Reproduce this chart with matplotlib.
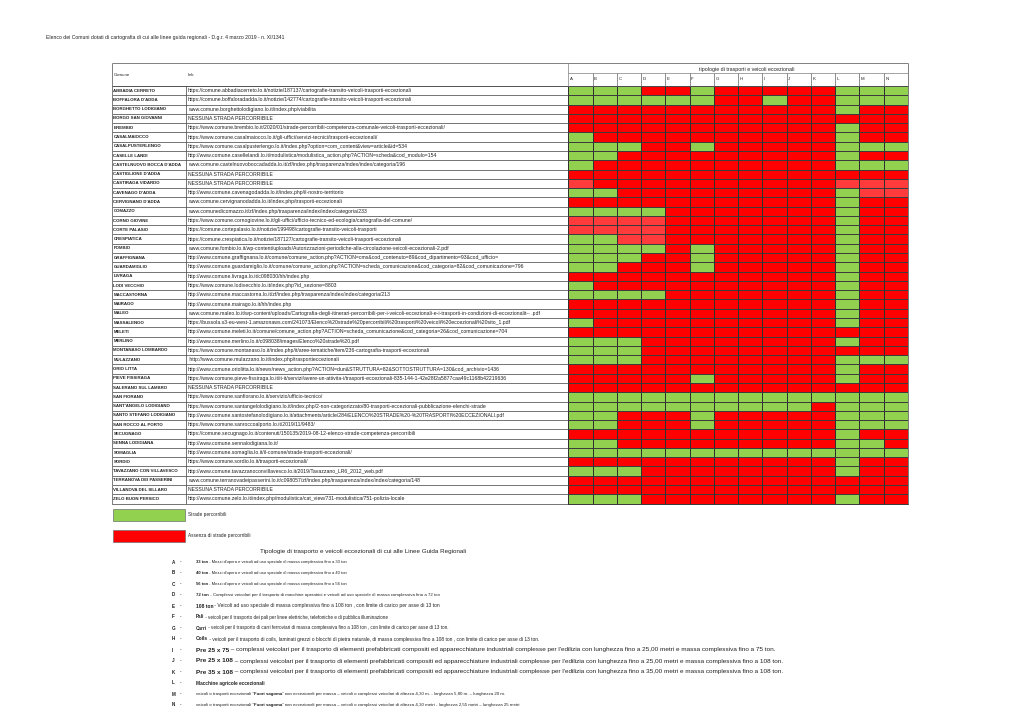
import numpy as np
import matplotlib
matplotlib.use("Agg")
import matplotlib.pyplot as plt
from matplotlib.colors import ListedColormap
from matplotlib.patches import Rectangle

plt.rcParams['font.family'] = ['Liberation Sans', 'DejaVu Sans']

# ---------------- data ----------------
title = ("Elenco dei Comuni dotati di cartografia di cui alle linee guida regionali"
         " - D.g.r. 4 marzo 2019 - n. XI/1341")
group_title = "tipologie di trasporti e veicoli eccezionali"
col_header = ["Comune", "link"]
categories = list("ABCDEFGHIJKLMN")

comuni = [
    "ABBADIA CERRETO", "BOFFALORA D'ADDA", "BORGHETTO LODIGIANO", "BORGO SAN GIOVANNI",
    "BREMBIO", "CASALMAIOCCO", "CASALPUSTERLENGO", "CASELLE LANDI",
    "CASTELNUOVO BOCCA D'ADDA", "CASTIGLIONE D'ADDA", "CASTIRAGA VIDARDO",
    "CAVENAGO D'ADDA", "CERVIGNANO D'ADDA", "COMAZZO", "CORNO GIOVINE", "CORTE PALASIO",
    "CRESPIATICA", "FOMBIO", "GRAFFIGNANA", "GUARDAMIGLIO", "LIVRAGA", "LODI VECCHIO",
    "MACCASTORNA", "MAIRAGO", "MALEO", "MASSALENGO", "MELETI", "MERLINO",
    "MONTANASO LOMBARDO", "MULAZZANO", "ORIO LITTA", "PIEVE FISSIRAGA",
    "SALERANO SUL LAMBRO", "SAN FIORANO", "SANT'ANGELO LODIGIANO",
    "SANTO STEFANO LODIGIANO", "SAN ROCCO AL PORTO", "SECUGNAGO", "SENNA LODIGIANA",
    "SOMAGLIA", "SORDIO", "TAVAZZANO CON VILLAVESCO", "TERRANOVA DEI PASSERINI",
    "VILLANOVA DEL SILLARO", "ZELO BUON PERSICO",
]

links = [
    "https://comune.abbadiacerreto.lo.it/notizie/187137/cartografie-transito-veicoli-trasporti-eccezionali",
    "https://comune.boffaloradadda.lo.it/notizie/142774/cartografie-transito-veicoli-trasporti-eccezionali",
    "www.comune.borghettolodigiano.lo.it/index.php/viabilita",
    "NESSUNA STRADA PERCORRIBILE",
    "https://www.comune.brembio.lo.it/2020/01/strade-percorribili-competenza-comunale-veicoli-trasporti-eccezionali/",
    "https://www.comune.casalmaiocco.lo.it/gli-uffici/servizi-tecnici/trasporti-eccezionali/",
    "https://www.comune.casalpusterlengo.lo.it/index.php?option=com_content&view=article&id=534",
    "http://www.comune.casellelandi.lo.it/modulistica/modulistica_action.php?ACTION=scheda&cod_modulo=154",
    "www.comune.castelnuovoboccadadda.lo.it/zf/index.php/trasparenza/index/index/categoria/196",
    "NESSUNA STRADA PERCORRIBILE",
    "NESSUNA STRADA PERCORRIBILE",
    "http://www.comune.cavenagodadda.lo.it/index.php/il-nostro-territorio",
    "www.comune.cervignanodadda.lo.it/index.php/trasporti-eccezionali",
    "www.comunedicomazzo.it/zf/index.php/trasparenza/index/index/categoria/233",
    "https://www.comune.cornogiovine.lo.it/gli-uffici/ufficio-tecnico-ed-ecologia/cartografia-del-comune/",
    "https://comune.cortepalasio.lo.it/notizie/199498/cartografie-transito-veicoli-trasporti",
    "https://comune.crespiatica.lo.it/notizie/187127/cartografie-transito-veicoli-trasporti-eccezionali",
    "www.comune.fombio.lo.it/wp-content/uploads/Autorizzazioni-periodiche-alla-circolazione-veicoli-eccezionali-2.pdf",
    "http://www.comune.graffignana.lo.it/comune/comune_action.php?ACTION=cms&cod_contenuto=89&cod_dipartimento=93&cod_ufficio=",
    "http://www.comune.guardamiglio.lo.it/comune/comune_action.php?ACTION=scheda_comunicazione&cod_categoria=82&cod_comunicazione=796",
    "http://www.comune.livraga.lo.it/c098030/hh/index.php",
    "https://www.comune.lodivecchio.lo.it/index.php?id_sezione=8803",
    "http://www.comune.maccastorna.lo.it/zf/index.php/trasparenza/index/index/categoria/213",
    "http://www.comune.mairago.lo.it/hh/index.php",
    "www.comune.maleo.lo.it/wp-content/uploads/Cartografia-degli-itinerari-percorribili-per-i-veicoli-eccezionali-e-i-trasporti-in-condizioni-di-eccezionalit-- .pdf",
    "https://bussola.s3-eu-west-1.amazonaws.com/241073/Elenco%20strade%20percorribili%20trasporti%20veicoli%20eccezionali%20sito_1.pdf",
    "http://www.comune.meleti.lo.it/comune/comune_action.php?ACTION=scheda_comunicazione&cod_categoria=26&cod_comunicazione=704",
    "http://www.comune.merlino.lo.it/c098038/images/Elenco%20strade%20.pdf",
    "https://www.comune.montanaso.lo.it/index.php/it/aree-tematiche/item/236-cartografia-trasporti-eccezionali",
    " http://www.comune.mulazzano.lo.it/index.php/trasportieccezionali",
    "http://www.comune.oriolitta.lo.it/news/news_action.php?ACTION=dun&STRUTTURA=82&SOTTOSTRUTTURA=130&cod_archivio=1436",
    "https://www.comune.pieve-fissiraga.lo.it/it-it/servizi/avere-un-attivita-i/trasporti-eccezionali-835-144-1-42e28f2a5877caa49c1168b42219636",
    "NESSUNA STRADA PERCORRIBILE",
    "https://www.comune.sanfiorano.lo.it/servizio/ufficio-tecnico/",
    "https://www.comune.santangelolodigiano.lo.it/index.php/2-non-categorizzato/80-trasporti-eccezionali-pubblicazione-elenchi-strade",
    "http://www.comune.santostefanolodigiano.lo.it/attachments/article/284/ELENCO%20STRADE%20-%20TRASPORTI%20ECCEZIONALI.pdf",
    "https://www.comune.sanroccoalporto.lo.it/2019/11/9483/",
    "https://comune.secugnago.lo.it/contenuti/150135/2019-08-12-elenco-strade-competenza-percorribili",
    "http://www.comune.sennalodigiana.lo.it/",
    "http://www.comune.somaglia.lo.it/il-comune/strade-trasporti-eccezionali/",
    "https://www.comune.sordio.lo.it/trasporti-eccezionali/",
    "http://www.comune.tavazzanoconvillavesco.lo.it/2019/Tavazzano_LR6_2012_web.pdf",
    "www.comune.terranovadeipasserini.lo.it/c098057/zf/index.php/trasparenza/index/index/categoria/148",
    "NESSUNA STRADA PERCORRIBILE",
    "http://www.comune.zelo.lo.it/index.php/modulistica/cat_view/731-modulistica/751-polizia-locale",
]

# G = strade percorribili, R = assenza, P = assenza (tono chiaro) ; columns A..N
status = [
    "GGGRRGRRRRRGGG", "GGGGGGRRGRRGGG", "RRRRRRRRRRRGRR", "RRRRRRRRRRRRRR",
    "RRRRRRRRRRRGRR", "GRRRRRRRRRRGRR", "GGGRRGRRRRRGGG", "GGRRRRRRRRRGRR",
    "GRRRRRRRRRRGGG", "RRRRRRRRRRRRRR", "PRRRRRRRRRRPPP", "GGRRRRRRRRRGPP",
    "RRRRRRRRRRRGRR", "GGGGRRRRRRRGRR", "PPPPRRRRRRRGRR", "PPPPRRRRRRRGRR",
    "GGPPRRRRRRRGRR", "GGGGRGRRRRRGRR", "GGGRRGRRRRRGRR", "GGRRRGRRRRRGRR",
    "RRRRRRRRRRRGRR", "GRRRRRRRRRRGRR", "GGGGRRRRRRRGRR", "RRRRRRRRRRRGRR",
    "RRRRRRRRRRRGRR", "GRRRRRRRRRRGRR", "RRRRRRRRRRRRRR", "GGGRRRRRRRRGRR",
    "GGGRRRRRRRRRRR", "GGGRRRRRRRRGGG", "RRRRRRRRRRRGRR", "RRRRRGRRRRRGRR",
    "RRRRRRRRRRRRRR", "GGGGGGGGGGGGGG", "GGGGGGGGGGRGGG", "GGRRRGRRRRRGGG",
    "GGRRRGRRRRRGGG", "RRRRRRRRRRRGRR", "GGRRRRRRRRRGGR", "GGGGGGGGGGGGGG",
    "RRRRRRRRRRRGRR", "GGGRRRRRRRRGRR", "RRRRRRRRRRRRRR", "RRRRRRRRRRRRRR",
    "GGGRRRRRRRRGRR",
]

legend_labels = ["Strade percorribili", "Assenza di strade percorribili"]

types_title = "Tipologie di trasporto e veicoli eccezionali di cui alle Linee Guida Regionali"
type_segments = [
    [("33 ton", True), (" - Mezzi d'opera e veicoli ad uso speciale di massa complessiva fino a 33 ton", False)],
    [("40 ton", True), (" - Mezzi d'opera e veicoli ad uso speciale di massa complessiva fino a 40 ton", False)],
    [("56 ton", True), (" - Mezzi d'opera e veicoli ad uso speciale di massa complessiva fino a 56 ton", False)],
    [("72 ton", True), (" - Complessi veicolari per il trasporto di macchine operatrici e veicoli ad uso speciale di massa complessiva fino a 72 ton", False)],
    [("108 ton", True), (" - Veicoli ad uso speciale di massa complessiva fino a 108 ton , con limite di carico per asse di 13 ton", False)],
    [("Pali", True), (" - veicoli per il trasporto dei pali per linee elettriche, telefoniche e di pubblica illuminazione", False)],
    [("Carri", True), (" - veicoli per il trasporto di carri ferroviari di massa complessiva fino a 108 ton , con limite di carico per asse di 13 ton.", False)],
    [("Coils", True), (" - veicoli per il trasporto di coils, laminati grezzi o blocchi di pietra naturale, di massa complessiva fino a 108 ton , con limite di carico per asse di 13 ton.", False)],
    [("Pre 25 x 75", True), (" \u2013 complessi veicolari per il trasporto di elementi prefabbricati compositi ed apparecchiature industriali complesse per l'edilizia con lunghezza fino a 25,00 metri e massa complessiva fino a 75 ton.", False)],
    [("Pre 25 x 108", True), (" \u2013 complessi veicolari per il trasporto di elementi prefabbricati compositi ed apparecchiature industriali complesse per l'edilizia con lunghezza fino a 25,00 metri e massa complessiva fino a 108 ton.", False)],
    [("Pre 35 x 108", True), (" \u2013 complessi veicolari per il trasporto di elementi prefabbricati compositi ed apparecchiature industriali complesse per l'edilizia con lunghezza fino a 35,00 metri e massa complessiva fino a 108 ton.", False)],
    [("Macchine agricole eccezionali", True)],
    [("veicoli o trasporti eccezionali \"", False), ("Fuori sagoma", True), ("\" non eccezionali per massa \u2013 veicoli o complessi veicolari di altezza 4,30 m. - larghezza 5,80 m. \u2013 lunghezza 20 m.", False)],
    [("veicoli o trasporti eccezionali \"", False), ("Fuori sagoma", True), ("\" non eccezionali per massa \u2013 veicoli o complessi veicolari di altezza 4,30 metri - larghezza 2,55 metri \u2013 lunghezza 25 metri", False)],
]

# ---------------- style / layout ----------------
GREEN, RED, PINK = "#92D050", "#FF0000", "#FF3B3B"
TXT = "#222222"
W, H = 1020, 721
x_name, x_link, x_grid0, x_grid1 = 112.0, 186.0, 568.3, 908.0
y_top, y_sub, y_row0, row_h = 63.0, 73.3, 86.0, 9.28
type_fs = [3.0, 3.0, 3.0, 3.2, 3.6, 3.3, 3.3, 3.5, 4.6, 4.6, 4.6, 3.4, 3.2, 3.2]

fig = plt.figure(figsize=(W / 100, H / 100), dpi=100)
ax = fig.add_axes([0, 0, 1, 1])
ax.set_xlim(0, W)
ax.set_ylim(H, 0)
ax.axis("off")

ax.text(46, 38, title, fontsize=3.7, color=TXT, va="center", ha="left")

n = len(comuni)
ncol = len(categories)
y_edges = y_row0 + row_h * np.arange(n + 1)
x_edges = np.linspace(x_grid0, x_grid1, ncol + 1)
y_bot = y_edges[-1]

# grid of coloured cells
code_map = {"G": 0, "R": 1, "P": 2}
codes = np.array([[code_map[c] for c in s] for s in status])
ax.pcolormesh(x_edges, y_edges, codes, cmap=ListedColormap([GREEN, RED, PINK]),
              vmin=-0.5, vmax=2.5, edgecolors="#3c3c3c", linewidth=0.45)
ax.vlines(x_edges, y_row0, y_bot, color="#2a2a2a", lw=0.6, alpha=0.7)

# table lines
LC = "#505050"
ax.hlines(y_edges, x_name, x_grid0, color=LC, lw=0.55)
ax.vlines([x_name, x_link], y_row0, y_bot, color=LC, lw=0.55)
ax.vlines([x_name, x_grid1], y_top, y_bot, color="#808080", lw=0.7)
ax.hlines([y_top], x_name, x_grid1, color="#808080", lw=0.7)
ax.hlines([y_sub], x_grid0, x_grid1, color="#808080", lw=0.5)
ax.hlines([y_row0], x_name, x_grid1, color=LC, lw=0.6)
ax.vlines([x_grid0], y_top, y_row0, color="#808080", lw=0.5)
ax.vlines(x_edges[1:-1], y_sub, y_row0, color="#606060", lw=0.5)

# headers
ax.text(x_name + 1.5, 75, col_header[0], fontsize=3.2, color=TXT, va="center")
ax.text(x_link + 2, 75, col_header[1], fontsize=3.2, color=TXT, va="center")
ax.text(746.5, 69, group_title, fontsize=3.8, color=TXT, va="center", ha="center")
for j, c in enumerate(categories):
    ax.text(x_edges[j] + 1.5, 79.5, c, fontsize=3.2, color=TXT, va="center")

clip = Rectangle((x_link, y_row0), x_grid0 - x_link - 1, y_bot - y_row0,
                 transform=ax.transData, fill=False, visible=False)
ax.add_patch(clip)
for i, (name, link) in enumerate(zip(comuni, links)):
    yc = (y_edges[i] + y_edges[i + 1]) / 2
    ax.text(x_name + 1.5, yc, name, fontsize=3.2, fontweight="bold", color=TXT, va="center")
    t = ax.text(x_link + 2, yc, link, fontsize=3.7, color=TXT, va="center")
    t.set_clip_path(clip)

# legend
for k, (lab, col, y0) in enumerate(zip(legend_labels, [GREEN, RED], [509, 530])):
    ax.add_patch(Rectangle((113, y0), 72, 11.5, facecolor=col, edgecolor="#707070", lw=0.5))
    ax.text(188, y0 + 5.8, lab, fontsize=3.4, color=TXT, va="center")

# types description
ax.text(363, 552, types_title, fontsize=4.5, color=TXT, va="center", ha="center")
for k, (letter, segs, fs) in enumerate(zip(categories, type_segments, type_fs)):
    y = 562 + 11 * k
    ax.text(172, y, letter, fontsize=3.3, fontweight="bold", color=TXT, va="center")
    ax.text(180, y, "-", fontsize=3.3, color=TXT, va="center")
    prev = None
    for txt, bold in segs:
        w = "bold" if bold else "normal"
        if prev is None:
            prev = ax.text(196, y, txt, fontsize=fs, fontweight=w, color=TXT, va="center")
        else:
            prev = ax.annotate(txt, xy=(1, 0.5), xycoords=prev, fontsize=fs,
                               fontweight=w, color=TXT, va="center", ha="left")

fig.savefig("out.png", dpi=100, facecolor="white")
